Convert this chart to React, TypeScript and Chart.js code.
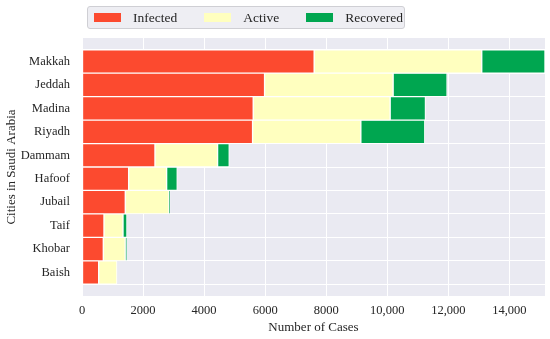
import React, { useEffect, useRef } from "react";
import { Chart, registerables } from "chart.js";

Chart.register(...registerables);

const cities = ["Makkah", "Jeddah", "Madina", "Riyadh", "Dammam", "Hafoof", "Jubail", "Taif", "Khobar", "Baish"];
const infected = [7604, 5980, 5608, 5587, 2390, 1528, 1418, 720, 698, 546];
const active = [5489, 4210, 4485, 3546, 2051, 1244, 1430, 622, 720, 600];
const recovered = [2072, 1768, 1157, 2095, 382, 348, 35, 131, 55, 0];
const seriesNames = ["Infected", "Active", "Recovered"];
const seriesColors = ["#FC4A2F", "#FFFFBF", "#00A650"];
const xTicks = [0, 2000, 4000, 6000, 8000, 10000, 12000, 14000];
const xTickLabels = ["0", "2000", "4000", "6000", "8000", "10,000", "12,000", "14,000"];
const xMax = 15165;

const FONT = "'Liberation Serif', 'Times New Roman', serif";
const TEXT = "#262626";

const bgPlugin = {
  id: "bg",
  beforeDraw(chart: any) {
    const { ctx, chartArea } = chart;
    ctx.save();
    ctx.fillStyle = "#ffffff";
    ctx.fillRect(0, 0, chart.width, chart.height);
    ctx.fillStyle = "#EAEAF2";
    ctx.fillRect(chartArea.left, chartArea.top, chartArea.right - chartArea.left, chartArea.bottom - chartArea.top);
    ctx.restore();
  },
};

export default function App() {
  const ref = useRef<HTMLCanvasElement | null>(null);

  useEffect(() => {
    if (!ref.current) return;
    const labels = ["", ...cities, ""];
    const pad = (arr: number[]) => [null, ...arr, null];
    const values = [infected, active, recovered];
    const chart = new Chart(ref.current, {
      type: "bar",
      data: {
        labels,
        datasets: values.map((v, i) => ({
          label: seriesNames[i],
          data: pad(v) as any,
          backgroundColor: seriesColors[i],
          borderColor: "#ffffff",
          borderWidth: 1,
          borderSkipped: false,
          barPercentage: 1,
          categoryPercentage: 1,
        })),
      },
      options: {
        indexAxis: "y",
        animation: false,
        responsive: false,
        maintainAspectRatio: false,
        layout: { padding: { top: 38, right: 5, bottom: 0, left: 0 } },
        plugins: {
          legend: { display: false },
          tooltip: { enabled: false },
        },
        scales: {
          x: {
            type: "linear",
            stacked: true,
            min: 0,
            max: xMax,
            afterBuildTicks: (scale: any) => {
              scale.ticks = xTicks.map((v) => ({ value: v }));
            },
            afterFit: (scale: any) => {
              scale.height = 43;
            },
            ticks: {
              padding: 7,
              color: TEXT,
              autoSkip: false,
              maxRotation: 0,
              font: { family: FONT, size: 12.5 },
              callback: (v: any) => {
                const i = xTicks.indexOf(Number(v));
                return i >= 0 ? xTickLabels[i] : "";
              },
            },
            grid: { color: "#ffffff", lineWidth: 1, drawTicks: false },
            border: { display: false },
            title: {
              display: true,
              text: "Number of Cases",
              color: TEXT,
              font: { family: FONT, size: 13 },
              padding: { top: 4, bottom: 4 },
            },
          },
          y: {
            type: "category",
            stacked: true,
            offset: false,
            afterFit: (scale: any) => {
              scale.width = 82;
            },
            ticks: {
              padding: 12,
              color: TEXT,
              autoSkip: false,
              font: { family: FONT, size: 12.5 },
            },
            grid: { color: "#ffffff", lineWidth: 1, drawTicks: false },
            border: { display: false },
            title: {
              display: true,
              text: "Cities in Saudi Arabia",
              color: TEXT,
              font: { family: FONT, size: 13 },
              padding: { top: 4, bottom: 4 },
            },
          },
        },
      },
      plugins: [bgPlugin],
    } as any);
    return () => chart.destroy();
  }, []);

  const itemStyle: React.CSSProperties = { display: "flex", alignItems: "center" };
  const swatch = (c: string): React.CSSProperties => ({
    width: 27,
    height: 9,
    background: c,
    marginRight: 12,
    flex: "none",
  });

  return (
    <div style={{ position: "fixed", left: 0, top: 0, width: 550, height: 339, background: "#fff" }}>
      <canvas ref={ref} width={550} height={339} style={{ display: "block" }} />
      <div
        style={{
          position: "absolute",
          left: 87,
          top: 6,
          width: 318,
          height: 23,
          boxSizing: "border-box",
          background: "#EEEEF3",
          border: "1px solid #CFCFD4",
          borderRadius: 3,
          display: "flex",
          alignItems: "center",
          paddingLeft: 6,
          fontFamily: FONT,
          fontSize: 13.5,
          color: TEXT,
          whiteSpace: "nowrap",
        }}
      >
        {seriesNames.map((n, i) => (
          <div key={n} style={{ ...itemStyle, marginRight: i < seriesNames.length - 1 ? 27 : 0 }}>
            <span style={swatch(seriesColors[i])} />
            <span>{n}</span>
          </div>
        ))}
      </div>
    </div>
  );
}
